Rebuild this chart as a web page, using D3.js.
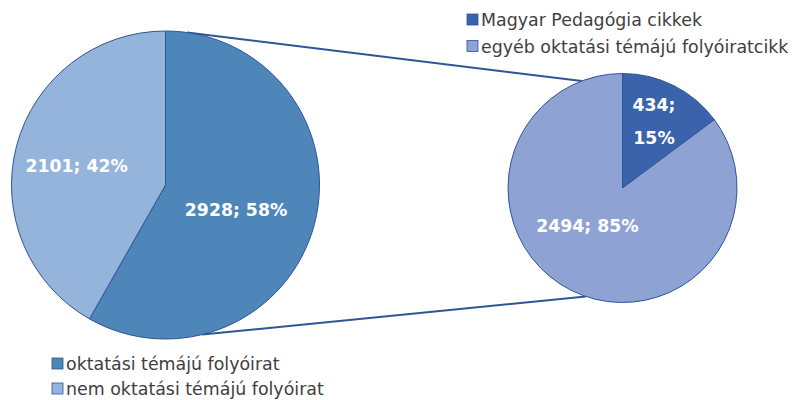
<!DOCTYPE html>
<html>
<head>
<meta charset="utf-8">
<script src="https://cdn.jsdelivr.net/npm/d3@7"></script>
<style>
  html, body { margin: 0; padding: 0; background: #ffffff; }
  svg { display: block; }
</style>
</head>
<body>
<svg id="chart" width="792" height="400"></svg>
<script>
// ---- data ----
const mainCategories = ["oktatási témájú folyóirat", "nem oktatási témájú folyóirat"];
const mainValues = [2928, 2101];
const mainColors = ["#4F86BA", "#95B4DB"];

const subCategories = ["Magyar Pedagógia cikkek", "egyéb oktatási témájú folyóiratcikk"];
const subValues = [434, 2494];
const subColors = ["#3A63AB", "#8EA3D3"];

// ---- layout ----
const svg = d3.select("#chart");
const font = "'DejaVu Sans', Verdana, sans-serif";
const strokeCol = "#2F5496";
const lineCol = "#2F5597";

const left = { cx: 165.5, cy: 185, r: 154 };
const right = { cx: 622.5, cy: 188, r: 114.5 };
const deg = Math.PI / 180;

function pt(c, aDeg) {
  return [c.cx + c.r * Math.sin(aDeg * deg), c.cy - c.r * Math.cos(aDeg * deg)];
}

// connector lines (angles on each circle, clockwise from top)
const connectors = [[8, -20.8], [166.2, 198.7]];
connectors.forEach(([a1, a2]) => {
  const p1 = pt(left, a1), p2 = pt(right, a2);
  svg.append("line")
    .attr("x1", p1[0]).attr("y1", p1[1])
    .attr("x2", p2[0]).attr("y2", p2[1])
    .attr("stroke", lineCol).attr("stroke-width", 2);
});

const pie = d3.pie().sort(null).value(d => d);

// label placement: [angle offset from slice mid (deg), radius fraction]
function drawPie(c, values, colors, labelPlace, labelFn) {
  const g = svg.append("g").attr("transform", `translate(${c.cx},${c.cy})`);
  const arcs = pie(values);
  const arc = d3.arc().innerRadius(0).outerRadius(c.r);
  g.selectAll("path").data(arcs).enter().append("path")
    .attr("d", arc)
    .attr("fill", (d, i) => colors[i])
    .attr("stroke", strokeCol)
    .attr("stroke-width", 1);
  const total = d3.sum(values);
  arcs.forEach((d, i) => {
    const [offA, f] = labelPlace[i];
    const a = (d.startAngle + d.endAngle) / 2 + offA * deg;
    const x = Math.sin(a) * c.r * f, y = -Math.cos(a) * c.r * f;
    const lines = labelFn(d.data, Math.round(d.data / total * 100), i);
    const t = g.append("text")
      .attr("text-anchor", "middle")
      .attr("font-family", font)
      .attr("font-weight", "bold")
      .attr("font-size", 17.3)
      .attr("fill", "#ffffff");
    const lh = 33;
    const off = -(lines.length - 1) * lh / 2;
    lines.forEach((s, k) => {
      t.append("tspan").attr("x", x).attr("y", y + off + k * lh).attr("dy", "0.35em").text(s);
    });
  });
}

drawPie(left, mainValues, mainColors, [[4.7, 0.486], [-2.8, 0.59]], (v, p) => [`${v}; ${p}%`]);
drawPie(right, subValues, subColors, [[-1.2, 0.64], [16.3, 0.45]], (v, p, i) => i === 0 ? [`${v};`, `${p}%`] : [`${v}; ${p}%`]);

// legends
function legend(x, y0, step, cats, colors) {
  cats.forEach((c, i) => {
    const y = y0 + i * step;
    svg.append("rect")
      .attr("x", x).attr("y", y - 12)
      .attr("width", 11).attr("height", 11)
      .attr("fill", colors[i])
      .attr("stroke", strokeCol).attr("stroke-width", 0.8);
    svg.append("text")
      .attr("x", x + 14).attr("y", y)
      .attr("font-family", font)
      .attr("font-size", 17.4)
      .attr("fill", "#404040")
      .text(c);
  });
}
legend(467, 26, 26.5, subCategories, subColors);
legend(52, 370, 25, mainCategories, mainColors);
</script>
</body>
</html>
